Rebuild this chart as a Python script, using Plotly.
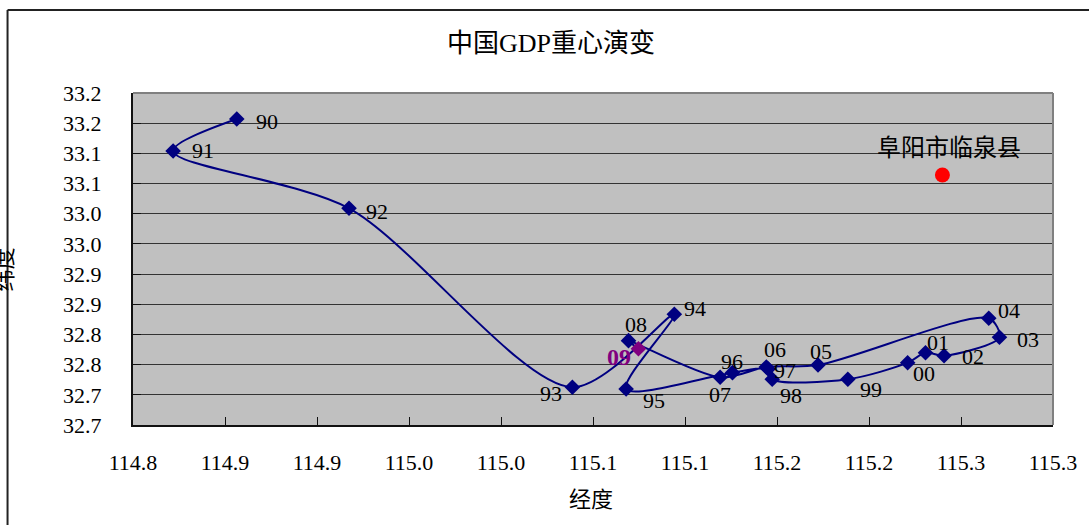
import plotly.graph_objects as go

# ---- data ----
year_labels = ["90", "91", "92", "93", "94", "95", "96", "97", "98", "99",
               "00", "01", "02", "03", "04", "05", "06", "07", "08", "09"]
longitude = [114.8564, 114.8218, 114.9174, 115.0388, 115.0942, 115.0680, 115.1258,
             115.1452, 115.1474, 115.1885, 115.2210, 115.2307, 115.2408, 115.2709,
             115.2651, 115.1723, 115.1442, 115.1191, 115.0693, 115.0747]
latitude = [33.157, 33.104, 33.009, 32.7125, 32.8334, 32.7096, 32.7367,
            32.7428, 32.7257, 32.7257, 32.7532, 32.7698, 32.7648, 32.7953,
            32.8268, 32.7494, 32.7461, 32.729, 32.7897, 32.7764]

city_name = "阜阳市临泉县"
city_lon = [115.2399]
city_lat = [33.0642]

x_tick_vals = [114.80, 114.85, 114.90, 114.95, 115.00, 115.05, 115.10, 115.15, 115.20, 115.25, 115.30]
x_tick_text = ["114.8", "114.9", "114.9", "115.0", "115.0", "115.1", "115.1", "115.2", "115.2", "115.3", "115.3"]
y_tick_vals = [32.65, 32.70, 32.75, 32.80, 32.85, 32.90, 32.95, 33.00, 33.05, 33.10, 33.15, 33.20]
y_tick_text = ["32.7", "32.7", "32.8", "32.8", "32.9", "32.9", "33.0", "33.0", "33.1", "33.1", "33.2", "33.2"]

title_text = "中国GDP重心演变"
x_title = "经度"
y_title = "纬度"

# ---- label offsets (pixels: right, down) ----
label_offsets = {
    "90": (30, 3), "91": (30, 0), "92": (28, 3), "93": (-21, 6), "94": (21, -6),
    "95": (28, 11), "96": (0, -11), "97": (17, 2), "98": (19, 16), "99": (23, 10),
    "00": (16, 11), "01": (13, -10), "02": (29, 1), "03": (29, 2), "04": (20, -8),
    "05": (3, -14), "06": (9, -17), "07": (0, 17), "08": (7, -16), "09": (-19, 8),
}

SERIF = "Liberation Serif, Noto Sans CJK SC, serif"
NAVY = "#000080"
PURPLE = "#800080"

W, H = 1089, 525
L, R, T, B = 133, 32, 93, 100
pw, ph = W - L - R, H - T - B

def px_x(p):
    return (p - L) / pw

def px_y(p):
    return (H - B - p) / ph

marker_colors = [PURPLE if lab == "09" else NAVY for lab in year_labels]

fig = go.Figure()
fig.add_trace(go.Scatter(
    x=longitude, y=latitude, mode="lines+markers",
    line=dict(color=NAVY, width=2, shape="spline", smoothing=0.85),
    marker=dict(symbol="diamond", size=12, color=marker_colors),
    hoverinfo="skip", showlegend=False,
))
fig.add_trace(go.Scatter(
    x=city_lon, y=city_lat, mode="markers",
    marker=dict(symbol="circle", size=15, color="#FF0000"),
    hoverinfo="skip", showlegend=False,
))

annotations = []
for lab, xv, yv in zip(year_labels, longitude, latitude):
    dx, dy = label_offsets[lab]
    is09 = lab == "09"
    annotations.append(dict(
        x=xv, y=yv, xref="x", yref="y", text=f"<b>{lab}</b>" if is09 else lab,
        showarrow=False, xshift=dx, yshift=-dy, xanchor="center", yanchor="middle",
        font=dict(family=SERIF, size=24 if is09 else 22, color=PURPLE if is09 else "black"),
    ))
annotations.append(dict(
    x=city_lon[0], y=city_lat[0], xref="x", yref="y", text=city_name,
    showarrow=False, xshift=7, yshift=27, xanchor="center", yanchor="middle",
    font=dict(family=SERIF, size=24, color="black"),
))
annotations.append(dict(
    x=px_x(553), y=px_y(44), xref="paper", yref="paper", text=title_text,
    showarrow=False, xanchor="center", yanchor="middle",
    font=dict(family=SERIF, size=26, color="black"),
))
annotations.append(dict(
    x=px_x(593), y=px_y(499), xref="paper", yref="paper", text=x_title,
    showarrow=False, xanchor="center", yanchor="middle",
    font=dict(family=SERIF, size=22, color="black"),
))
annotations.append(dict(
    x=px_x(3), y=px_y(270), xref="paper", yref="paper", text=y_title,
    showarrow=False, textangle=-90, xanchor="center", yanchor="middle",
    font=dict(family=SERIF, size=22, color="black"),
))

shapes = [
    # figure frame (top and left visible)
    dict(type="line", xref="paper", yref="paper", x0=px_x(7), x1=px_x(1200),
         y0=px_y(10), y1=px_y(10), line=dict(color="#222", width=2)),
    dict(type="line", xref="paper", yref="paper", x0=px_x(7), x1=px_x(7),
         y0=px_y(10), y1=px_y(600), line=dict(color="#222", width=2)),
    # plot-area top/right border (gray)
    dict(type="line", xref="paper", yref="paper", x0=0, x1=1, y0=1, y1=1,
         line=dict(color="#808080", width=2)),
    dict(type="line", xref="paper", yref="paper", x0=1, x1=1, y0=0, y1=1,
         line=dict(color="#808080", width=2)),
]

fig.update_layout(
    width=W, height=H,
    margin=dict(l=L, r=R, t=T, b=B),
    paper_bgcolor="white", plot_bgcolor="#C0C0C0",
    annotations=annotations, shapes=shapes,
    xaxis=dict(
        range=[114.80, 115.30], tickmode="array", tickvals=x_tick_vals, ticktext=x_tick_text,
        showgrid=False, zeroline=False, showline=True, linecolor="#111", linewidth=2,
        ticks="inside", ticklen=8, tickcolor="#111", tickwidth=1,
        tickfont=dict(family=SERIF, size=22, color="black"), ticklabelstandoff=17,
    ),
    yaxis=dict(
        range=[32.65, 33.20], tickmode="array", tickvals=y_tick_vals, ticktext=y_tick_text,
        showgrid=True, gridcolor="#333", gridwidth=1, zeroline=False,
        showline=True, linecolor="#111", linewidth=2,
        ticks="inside", ticklen=8, tickcolor="#111", tickwidth=1,
        tickfont=dict(family=SERIF, size=22, color="black"), ticklabelstandoff=25,
    ),
)

fig.write_html("out.html", config={"displayModeBar": False},
               post_script="document.body.style.margin='0';")
